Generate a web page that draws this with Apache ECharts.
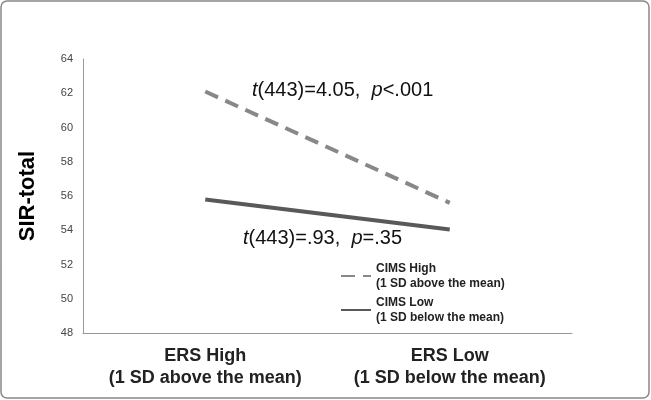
<!DOCTYPE html>
<html><head><meta charset="utf-8">
<script src="https://cdn.jsdelivr.net/npm/echarts@6/dist/echarts.min.js"></script>
<style>html,body{margin:0;padding:0;background:#fff}#c{width:651px;height:400px}</style>
</head><body><div id="c"></div>
<script>
const categories = ['ERS High\n(1 SD above the mean)', 'ERS Low\n(1 SD below the mean)'];
const cimsHigh = [62.1, 55.6];
const cimsLow = [55.8, 54.05];
const seriesNames = ['CIMS High\n(1 SD above the mean)', 'CIMS Low\n(1 SD below the mean)'];
const chart = echarts.init(document.getElementById('c'));
const F = 'Liberation Sans, Arial, sans-serif';
chart.setOption({
  animation: false,
  grid: {left: 83, right: 79, top: 59, bottom: 67},
  xAxis: {type: 'category', data: categories, boundaryGap: true,
    axisLine: {lineStyle: {color: '#999'}}, axisTick: {lineStyle: {color: '#999'}, length: 4},
    axisLabel: {interval: 0, color: '#222', fontSize: 18, fontWeight: 'bold', fontFamily: F, lineHeight: 22, margin: 12}},
  yAxis: {type: 'value', min: 48, max: 64, interval: 2, name: 'SIR-total', nameLocation: 'middle', nameGap: 44,
    nameTextStyle: {fontSize: 22, fontWeight: 'bold', color: '#000', fontFamily: F},
    splitLine: {show: false}, axisLine: {show: true, lineStyle: {color: '#999'}}, axisTick: {show: false},
    axisLabel: {color: '#444', fontSize: 11, fontFamily: F, margin: 10}},
  legend: {orient: 'vertical', left: 335, top: 256, itemWidth: 30, itemGap: 4,
    itemStyle: {opacity: 0},
    textStyle: {fontSize: 12, fontWeight: 'bold', color: '#222', fontFamily: F, lineHeight: 15},
    data: seriesNames},
  series: [
    {name: seriesNames[0], type: 'line', data: cimsHigh, symbol: 'none', lineStyle: {color: '#888', width: 4, type: [14, 8]}, itemStyle: {color: '#888'}},
    {name: seriesNames[1], type: 'line', data: cimsLow, symbol: 'none', lineStyle: {color: '#595959', width: 4}, itemStyle: {color: '#595959'}}
  ],
  graphic: [
    {type: 'rect', shape: {x: 1, y: 1, width: 648, height: 397, r: 6}, style: {fill: 'none', stroke: '#888', lineWidth: 1.5}, silent: true},
    {type: 'text', left: 252, top: 80, style: {text: '{i|t}(443)=4.05,  {i|p}<.001', fontSize: 20, fontFamily: F, fill: '#111', rich: {i: {fontStyle: 'italic', fontSize: 20, fontFamily: F}}}},
    {type: 'text', left: 243, top: 228, style: {text: '{i|t}(443)=.93,  {i|p}=.35', fontSize: 20, fontFamily: F, fill: '#111', rich: {i: {fontStyle: 'italic', fontSize: 20, fontFamily: F}}}}
  ]
});
</script></body></html>
